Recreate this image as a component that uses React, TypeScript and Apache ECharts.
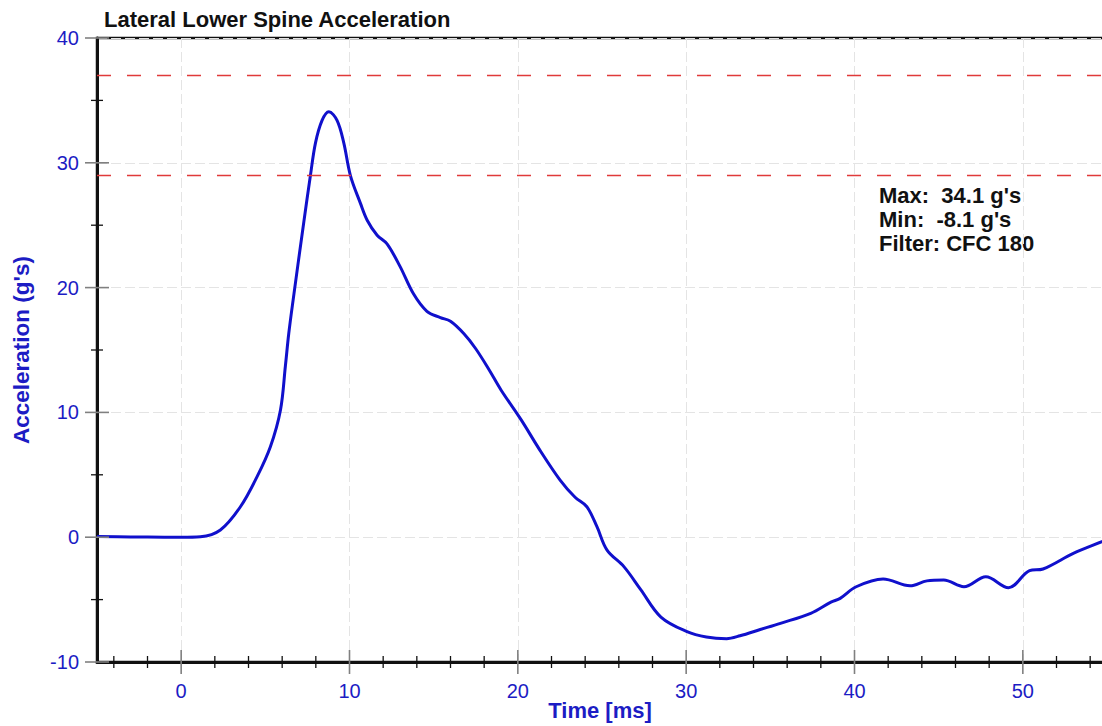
import React, { useEffect, useRef } from "react";
import * as echarts from "echarts";

const timeMs = [-5, -3, -1, 0, 1.14, 2.33, 3.52, 4.51, 5.3, 5.9, 6.19, 6.39, 6.65, 7.28, 7.68, 7.98, 8.37, 8.77, 9.26, 9.66, 10.05, 10.65, 11.05, 11.64, 12.23, 13.0, 13.8, 14.6, 15.4, 16.0, 16.8, 17.5, 18.3, 19.0, 20.2, 21.3, 22.5, 23.4, 24.1, 24.7, 25.3, 26.3, 27.3, 28.5, 30.05, 31.2, 32.4, 33.2, 34.4, 35.6, 37.4, 38.6, 39.15, 40.1, 41.7, 43.3, 44.3, 45.3, 46.5, 47.8, 49.15, 50.4, 51.2, 53.0, 54.7, 55];
const accel = [0.05, 0.02, 0, 0, 0.04, 0.58, 2.44, 4.85, 7.25, 10.2, 13.7, 16.3, 19.0, 25.2, 29, 31.6, 33.4, 34.1, 33.4, 31.6, 29, 26.75, 25.4, 24.2, 23.5, 21.7, 19.5, 18.1, 17.6, 17.3, 16.3, 15.1, 13.4, 11.8, 9.4, 7.0, 4.6, 3.2, 2.44, 0.84, -1.03, -2.36, -4.2, -6.4, -7.57, -8.0, -8.13, -7.9, -7.4, -6.9, -6.1, -5.2, -4.9, -3.97, -3.35, -3.9, -3.5, -3.43, -3.97, -3.17, -4.05, -2.68, -2.55, -1.3, -0.36, -0.2];

const limitLines = [37, 29];
const xMajorTicks = [0, 10, 20, 30, 40, 50];
const xMinorTicks = [-4, -2, 2, 4, 6, 8, 12, 14, 16, 18, 22, 24, 26, 28, 32, 34, 36, 38, 42, 44, 46, 48, 52, 54];
const yMajorTicks = [-10, 0, 10, 20, 30, 40];
const yMinorTicks = [-5, 5, 15, 25, 35];
const statsLines = ["Max:  34.1 g's", "Min:  -8.1 g's", "Filter: CFC 180"];

const X_MIN = -5, X_MAX = 55, Y_MIN = -10, Y_MAX = 40;
const BLUE = "#1c1cc4";
const RED = "#e03a3a";
const FONT = "Liberation Sans, Arial, sans-serif";

export default function App() {
  const ref = useRef<HTMLDivElement>(null);
  useEffect(() => {
    const chart = echarts.init(ref.current!, undefined, { renderer: "svg" });
    const tickSeries = (vals: number[], axis: "x" | "y", major: boolean) => ({
      type: "custom",
      silent: true,
      clip: false,
      z: 5,
      data: vals.map((v) => (axis === "x" ? [v, Y_MIN] : [X_MIN, v])),
      encode: { x: 0, y: 1 },
      renderItem: (params: any, api: any) => {
        const p = api.coord([api.value(0), api.value(1)]);
        const L = major ? 12 : 6;
        const shape = axis === "x"
          ? { x1: p[0], y1: p[1] - L, x2: p[0], y2: p[1] + L }
          : { x1: p[0] - L, y1: p[1], x2: p[0] + L, y2: p[1] };
        return {
          type: "line",
          shape,
          style: { stroke: major ? "#808080" : "#111", lineWidth: major ? 1.6 : 1.3 },
        };
      },
    });
    chart.setOption({
      animation: false,
      title: {
        text: "Lateral Lower Spine Acceleration",
        left: 99,
        top: 3,
        textStyle: { fontFamily: FONT, fontWeight: "bold", fontSize: 22, color: "#111" },
      },
      grid: {
        left: 97,
        top: 38,
        width: 1010,
        bottom: 64,
        show: true,
        borderColor: "#111",
        borderWidth: 2.5,
        outerBoundsMode: "none",
        containLabel: false,
      },
      xAxis: {
        type: "value",
        min: X_MIN,
        max: X_MAX,
        name: "Time [ms]",
        nameLocation: "middle",
        nameGap: 37,
        nameMoveOverlap: false,
        nameTextStyle: { fontFamily: FONT, fontWeight: "bold", fontSize: 22, color: BLUE, padding: [0, 0, 0, -4] },
        axisLine: { onZero: false, lineStyle: { color: "#111", width: 3 } },
        axisTick: { show: false },
        axisLabel: {
          customValues: xMajorTicks,
          color: BLUE,
          fontFamily: FONT,
          fontSize: 20,
          margin: 19,
        },
        splitLine: { show: true, lineStyle: { color: "#e4e4e4", type: [10, 4], width: 1 } },
      },
      yAxis: {
        type: "value",
        min: Y_MIN,
        max: Y_MAX,
        interval: 10,
        name: "Acceleration (g's)",
        nameLocation: "middle",
        nameGap: 64,
        nameTextStyle: { fontFamily: FONT, fontWeight: "bold", fontSize: 22.5, color: BLUE },
        axisLine: { onZero: false, lineStyle: { color: "#111", width: 3 } },
        axisTick: { show: false },
        axisLabel: { color: BLUE, fontFamily: FONT, fontSize: 20, margin: 18 },
        splitLine: { show: true, lineStyle: { color: "#e4e4e4", type: [10, 4], width: 1 } },
      },
      graphic: [
        {
          type: "text",
          left: 879,
          top: 183,
          style: {
            text: statsLines.join("\n"),
            font: `bold 22px ${FONT}`,
            fill: "#111",
            lineHeight: 24,
          },
        },
      ],
      series: [
        {
          type: "line",
          data: timeMs.map((t, i) => [t, accel[i]]),
          showSymbol: false,
          smooth: 0.35,
          lineStyle: { color: "#1010cc", width: 3 },
          itemStyle: { color: "#1010cc" },
          z: 4,
          markLine: {
            silent: true,
            symbol: ["none", "none"],
            label: { show: false },
            itemStyle: { color: RED },
            lineStyle: { color: RED, type: [14, 16], width: 1.3, opacity: 1 },
            data: limitLines.map((v) => ({ yAxis: v, lineStyle: { color: RED } })),
          },
        },
        tickSeries(xMajorTicks, "x", true),
        tickSeries(xMinorTicks, "x", false),
        tickSeries(yMajorTicks, "y", true),
        tickSeries(yMinorTicks, "y", false),
      ],
    });
    return () => chart.dispose();
  }, []);
  return <div ref={ref} style={{ position: "fixed", left: 0, top: 0, width: 1102, height: 726, background: "#fff" }} />;
}
